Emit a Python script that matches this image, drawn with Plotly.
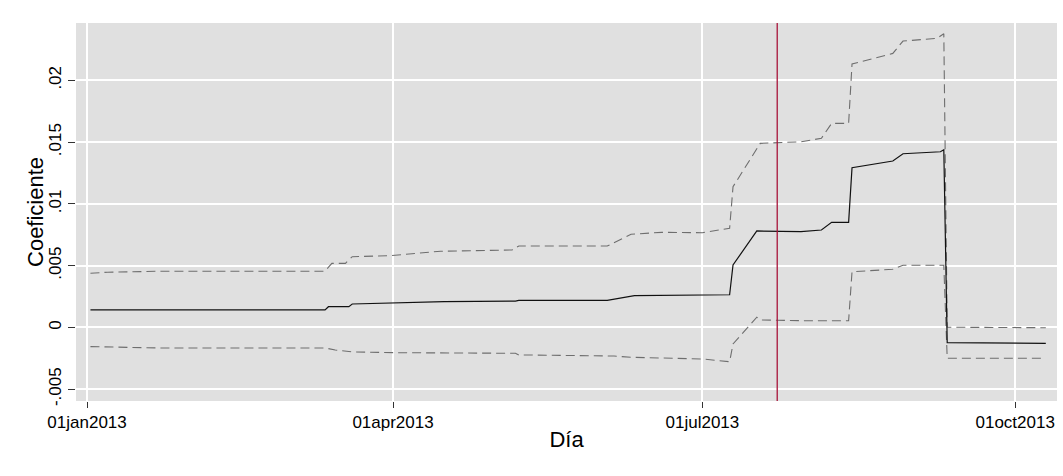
import plotly.graph_objects as go

# Rolling coefficient and its confidence band (breakpoints of each series)
coef_dates = ["2013-01-02", "2013-03-12", "2013-03-13", "2013-03-19", "2013-03-20",
              "2013-04-16", "2013-05-07", "2013-05-08", "2013-06-03", "2013-06-11",
              "2013-07-09", "2013-07-10", "2013-07-17", "2013-07-30", "2013-08-05",
              "2013-08-08", "2013-08-13", "2013-08-14", "2013-08-26", "2013-08-29",
              "2013-09-09", "2013-09-10", "2013-09-11", "2013-10-10"]
coef_vals = [0.00142, 0.00142, 0.00168, 0.00168, 0.00190,
             0.00209, 0.00214, 0.00220, 0.00219, 0.00257,
             0.00265, 0.00506, 0.00781, 0.00775, 0.00789,
             0.00851, 0.00851, 0.01293, 0.01347, 0.01406,
             0.01422, 0.01438, -0.00123, -0.00128]

upper_dates = ["2013-01-02", "2013-01-07", "2013-01-22", "2013-03-12", "2013-03-14",
               "2013-03-18", "2013-03-20", "2013-03-31", "2013-04-15", "2013-04-28",
               "2013-05-06", "2013-05-08", "2013-06-03", "2013-06-10", "2013-06-19",
               "2013-07-01", "2013-07-09", "2013-07-10", "2013-07-18", "2013-07-30",
               "2013-08-05", "2013-08-08", "2013-08-13", "2013-08-14", "2013-08-26",
               "2013-08-29", "2013-09-08", "2013-09-10", "2013-09-11", "2013-10-10"]
upper_vals = [0.00439, 0.00447, 0.00455, 0.00455, 0.00519,
              0.00519, 0.00573, 0.00581, 0.00617, 0.00621,
              0.00627, 0.00659, 0.00659, 0.00754, 0.00770,
              0.00767, 0.00803, 0.01139, 0.01490, 0.01503,
              0.01531, 0.01652, 0.01652, 0.02132, 0.02218,
              0.02318, 0.02340, 0.02377, 0.00002, -0.00002]

lower_dates = ["2013-01-02", "2013-01-15", "2013-01-23", "2013-03-12", "2013-03-15",
               "2013-03-20", "2013-04-02", "2013-05-07", "2013-05-08", "2013-06-05",
               "2013-06-10", "2013-07-01", "2013-07-09", "2013-07-10", "2013-07-17",
               "2013-07-18", "2013-07-30", "2013-08-13", "2013-08-14", "2013-08-26",
               "2013-08-29", "2013-09-10", "2013-09-11", "2013-10-10"]
lower_vals = [-0.00155, -0.00160, -0.00166, -0.00166, -0.00182,
              -0.00198, -0.00204, -0.00209, -0.00222, -0.00231,
              -0.00241, -0.00255, -0.00277, -0.00133, 0.00083,
              0.00061, 0.00055, 0.00055, 0.00451, 0.00471,
              0.00503, 0.00503, -0.00249, -0.00249]

event_date = "2013-07-23"

x_tick_dates = ["2013-01-01", "2013-04-01", "2013-07-01", "2013-10-01"]
x_tick_labels = ["01jan2013", "01apr2013", "01jul2013", "01oct2013"]
y_tick_vals = [-0.005, 0, 0.005, 0.01, 0.015, 0.02]
y_tick_labels = ["-.005", "0", ".005", ".01", ".015", ".02"]

FONT = "Liberation Sans, Arial, Helvetica, sans-serif"
band_style = dict(color="#6e6e6e", width=1.1, dash="9px,5px")

fig = go.Figure()
fig.add_trace(go.Scatter(x=upper_dates, y=upper_vals, mode="lines",
                         line=band_style, name="Límite superior"))
fig.add_trace(go.Scatter(x=lower_dates, y=lower_vals, mode="lines",
                         line=band_style, name="Límite inferior"))
fig.add_trace(go.Scatter(x=coef_dates, y=coef_vals, mode="lines",
                         line=dict(color="#111111", width=1.2), name="Coeficiente"))

fig.add_shape(type="line", xref="x", yref="paper", x0=event_date, x1=event_date,
              y0=0, y1=1, line=dict(color="#a8143a", width=1.3), layer="above")

# Vertical axis title placed just left of the rotated tick labels
fig.add_annotation(text="Coeficiente", xref="paper", yref="paper",
                   x=-0.0418, y=0.5, xanchor="center", yanchor="middle",
                   textangle=-90, showarrow=False, font=dict(size=22))

fig.update_layout(
    width=1063, height=476,
    margin=dict(l=76, r=6, t=23, b=75),
    paper_bgcolor="white",
    plot_bgcolor="#e0e0e0",
    showlegend=False,
    font=dict(family=FONT, color="black", size=17),
)
fig.update_xaxes(
    range=["2012-12-28 18:00", "2013-10-13 07:00"],
    tickvals=x_tick_dates, ticktext=x_tick_labels,
    ticks="outside", ticklen=6, tickwidth=1, tickcolor="#333333",
    showgrid=True, gridcolor="white", gridwidth=1.5,
    showline=False, zeroline=False,
    tickfont=dict(size=17),
    title=dict(text="Día", font=dict(size=22), standoff=0),
)
fig.update_yaxes(
    range=[-0.00595, 0.02464],
    tickvals=y_tick_vals, ticktext=y_tick_labels, tickangle=-90,
    ticks="outside", ticklen=7, tickwidth=1, tickcolor="#333333",
    showgrid=True, gridcolor="white", gridwidth=1.5,
    showline=False, zeroline=False,
    tickfont=dict(size=17),
)

fig.write_html("out.html")
